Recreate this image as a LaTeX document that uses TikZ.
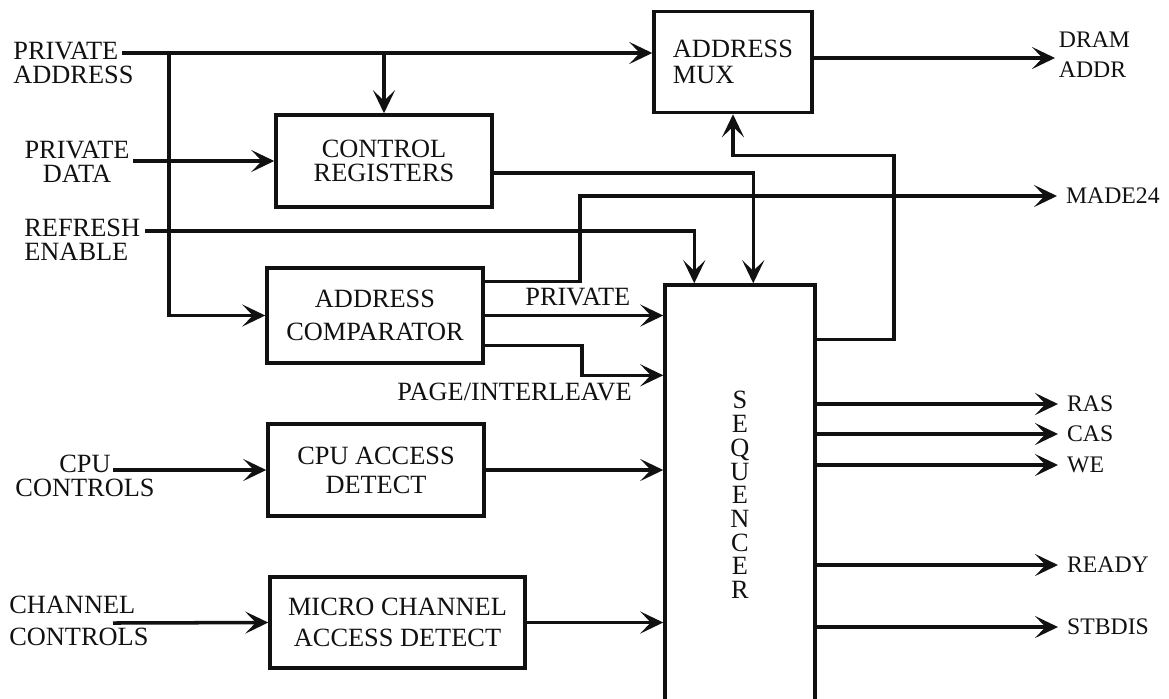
\documentclass[tikz,border=0pt]{standalone}
\usepackage{fontspec}
\setmainfont{Liberation Serif}
\usetikzlibrary{arrows.meta,calc,positioning}
\definecolor{ink}{HTML}{111111}
\tikzset{
  unit/.style={
    draw=ink,
    line width=2pt,
    align=center,
    inner sep=0pt,
    text=ink,
    font=\fontsize{15pt}{13.5pt}\selectfont
  },
  bus/.style={
    draw=ink,
    line width=2pt,
    -{Stealth[length=4.6mm,width=4.4mm,inset=2.1mm]}
  },
  pin/.style={font=\fontsize{15pt}{14pt}\selectfont, text=ink, inner sep=0pt},
  outpin/.style={font=\fontsize{13.5pt}{17pt}\selectfont, text=ink, inner sep=0pt}
}

\begin{document}
\begin{tikzpicture}[x=0.02cm,y=-0.02cm]
  \useasboundingbox (0,0) rectangle (1169,698);

  % functional blocks
  \node[unit, align=left, minimum width=3.16cm, minimum height=2.02cm]
    (mux) at (733,62) {ADDRESS\\[1pt]MUX};
  \node[unit, minimum width=4.32cm, minimum height=1.84cm]
    (ctrl) at (384,161) {CONTROL\\REGISTERS};
  \node[unit, minimum width=4.32cm, minimum height=1.9cm]
    (cmp) at (375,315.5) {ADDRESS\\[5pt]COMPARATOR};
  \node[unit, minimum width=4.32cm, minimum height=1.84cm]
    (cpu) at (376,470) {CPU ACCESS\\[3pt]DETECT};
  \node[unit, minimum width=5.1cm, minimum height=1.82cm]
    (mca) at (397.5,622.5) {MICRO CHANNEL\\[4pt]ACCESS DETECT};
  \node[unit, minimum width=3cm, minimum height=8.4cm]
    (seq) at (740,495) {S\\E\\Q\\U\\E\\N\\C\\E\\R};

  % inputs on the left
  \coordinate (paddr) at (122,53);
  \coordinate (tap) at (169,53);
  \coordinate (pdata) at (133,161);
  \coordinate (refr) at (145,231);
  \coordinate (cpuin) at (113,470);
  \coordinate (chin) at (113,623);

  \node[pin, align=left, anchor=west] (paddrlbl) at (13,63) {PRIVATE\\ADDRESS};
  \node[pin, align=center] (pdatalbl) at (77,162) {PRIVATE\\DATA};
  \node[pin, align=left, anchor=west] (refrlbl) at (24,240) {REFRESH\\ENABLE};
  \node[pin, align=center] (cpulbl) at (85,476) {CPU\\CONTROLS};
  \node[pin, align=left, anchor=west] (chlbl) at (9,621) {CHANNEL\\[4pt]CONTROLS};

  \draw[bus] (paddr) -- (paddr -| mux.west);
  \draw[bus] (ctrl.north |- paddr) -- (ctrl.north);
  \draw[bus] (tap) |- (cmp.west);
  \draw[bus] (pdata) -- (ctrl.west);
  \draw[bus] (refr) -| ($(seq.north west)+(31,0)$);
  \draw[bus] (cpuin) -- (cpu.west);
  \draw[bus] (chin) -- (mca.west);

  % block to block
  \draw[bus] ($(ctrl.east)+(0,12)$) -| ($(seq.north west)+(90,0)$);
  \draw[bus] (cmp.east) -- (cmp.east -| seq.west);
  \draw[bus] ($(cmp.east)+(0,30)$) -- ++(97,0) |- ($(seq.north west)+(0,92)$);
  \draw[bus] (cpu.east) -- (cpu.east -| seq.west);
  \draw[bus] (mca.east) -- (mca.east -| seq.west);
  \draw[bus] ($(seq.north east)+(0,56)$) -- ++(77,0) -- ++(0,-184) -| (mux.south);

  \node[pin, anchor=west] (privtag) at (525,297) {PRIVATE};
  \node[pin, anchor=east] (pagetag) at (632,392) {PAGE/INTERLEAVE};

  % outputs on the right
  \coordinate (dram) at (1055,58);
  \node[outpin, align=left, right=2pt of dram, yshift=0.06cm] (dramlbl) {DRAM\\ADDR};
  \draw[bus] ($(mux.east)+(0,-4)$) -- (dram);

  \coordinate (made) at (1057,196);
  \node[outpin, right=5pt of made] (madelbl) {MADE24};
  \draw[bus] ($(cmp.north east)+(0,15)$) -- ++(95,0) |- (made);

  \foreach \sig/\y in {RAS/404, CAS/434, WE/465, READY/565, STBDIS/627}{
    \coordinate (o-\sig) at (1058,\y);
    \node[outpin, right=5pt of o-\sig] (l-\sig) {\sig};
    \draw[bus] (seq.east |- o-\sig) -- (o-\sig);
  }
\end{tikzpicture}
\end{document}
